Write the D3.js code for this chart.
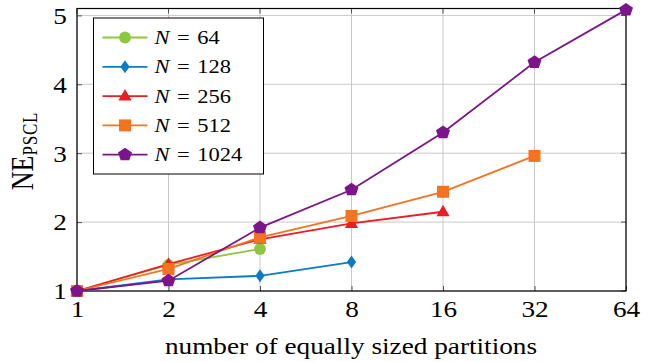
<!DOCTYPE html>
<head>
  <meta charset="utf-8">
  <title>NE PSCL</title>
  <script src="https://d3js.org/d3.v7.min.js"></script>
</head>
<body style="margin:0; background:#fff">
  <div id="chart"></div>
  <script>
    // Partitionen (x-Achse, log2)
    var partitions = [1, 2, 4, 8, 16, 32, 64];
    var yTicks = [1, 2, 3, 4, 5];

    // Werte je Serie
    var n64   = [1.00, 1.38, 1.61];
    var n128  = [1.00, 1.17, 1.22, 1.42];
    var n256  = [1.00, 1.39, 1.75, 1.98, 2.15];
    var n512  = [1.00, 1.32, 1.78, 2.09, 2.44, 2.96];
    var n1024 = [1.00, 1.15, 1.92, 2.47, 3.30, 4.32, 5.08];

    var seriesNames = ['64', '128', '256', '512', '1024'];
    var seriesValues = [n64, n128, n256, n512, n1024];
    var colors = ['#8dc63f', '#0a7cc4', '#ec1c24', '#f47321', '#7b1589'];
    var symbols = ['circle', 'diamond', 'triangle', 'square', 'pentagon'];

    var FONT = 'Liberation Serif';
    // die Vorlage ist horizontal gestreckt
    var SX = 1.185;

    var W = 652, H = 362;
    var margin = { top: 8.5, right: 26, bottom: 71, left: 77 };
    var width = W - margin.left - margin.right;
    var height = H - margin.top - margin.bottom;

    var x = d3.scaleLog().base(2).domain([1, 64]).range([0, width]);
    var y = d3.scaleLinear().domain([1, 5.1]).range([height, 0]);

    var svg = d3.select('#chart').append('svg')
      .attr('width', W).attr('height', H);
    var g = svg.append('g')
      .attr('transform', 'translate(' + margin.left + ',' + margin.top + ')');

    // Gitter
    g.selectAll('.vg').data(partitions).enter().append('line')
      .attr('x1', function (d) { return x(d); }).attr('x2', function (d) { return x(d); })
      .attr('y1', 0).attr('y2', height)
      .attr('stroke', '#c8c8c8').attr('stroke-width', 1);
    g.selectAll('.hg').data(yTicks).enter().append('line')
      .attr('y1', function (d) { return y(d); }).attr('y2', function (d) { return y(d); })
      .attr('x1', 0).attr('x2', width)
      .attr('stroke', '#c8c8c8').attr('stroke-width', 1);

    // Achsen
    var xAxis = d3.axisBottom(x).tickValues(partitions).tickFormat(d3.format('d'))
      .tickSizeInner(-5).tickSizeOuter(0);
    var yAxis = d3.axisLeft(y).tickValues(yTicks).tickFormat(d3.format('d'))
      .tickSizeInner(-5).tickSizeOuter(0);

    var gx = g.append('g').attr('transform', 'translate(0,' + height + ')').call(xAxis);
    var gy = g.append('g').call(yAxis);
    [gx, gy].forEach(function (a) {
      a.attr('font-family', null).attr('font-size', null);
      a.select('.domain').remove();
      a.selectAll('line').attr('stroke', '#555');
      a.selectAll('text').attr('fill', '#000')
        .style('font-size', '23px').style('font-family', FONT);
    });
    gx.selectAll('text').attr('y', 0).attr('dy', '0.71em')
      .attr('transform', 'translate(0,10) scale(' + SX + ',1)');
    gy.selectAll('text').attr('x', 0).attr('dy', '0.34em')
      .attr('transform', 'translate(-10,0) scale(' + SX + ',1)');

    // Ticks oben und rechts
    g.selectAll('.tt').data(partitions).enter().append('line')
      .attr('x1', function (d) { return x(d); }).attr('x2', function (d) { return x(d); })
      .attr('y1', 0).attr('y2', 5).attr('stroke', '#555');
    g.selectAll('.rt').data(yTicks).enter().append('line')
      .attr('y1', function (d) { return y(d); }).attr('y2', function (d) { return y(d); })
      .attr('x1', width).attr('x2', width - 5).attr('stroke', '#555');

    // Rahmen
    g.append('rect').attr('width', width).attr('height', height)
      .attr('fill', 'none').attr('stroke', '#000').attr('stroke-width', 1.2);

    function poly(pts) {
      return 'M' + pts.map(function (p) { return p[0].toFixed(2) + ',' + p[1].toFixed(2); }).join('L') + 'Z';
    }
    function markerPath(s) {
      if (s === 'circle') return d3.symbol().type(d3.symbolCircle).size(110)();
      if (s === 'square') return poly([[-6, -6], [6, -6], [6, 6], [-6, 6]]);
      if (s === 'diamond') return poly([[0, -6.5], [4.6, 0], [0, 6.5], [-4.6, 0]]);
      if (s === 'triangle') return poly([[0, -7], [6.6, 4.4], [-6.6, 4.4]]);
      var pts = [];
      for (var i = 0; i < 5; i++) {
        var a = -Math.PI / 2 + i * 2 * Math.PI / 5;
        pts.push([7 * Math.cos(a) * 1.05, 7 * Math.sin(a)]);
      }
      return poly(pts);
    }

    var line = d3.line()
      .x(function (d, i) { return x(partitions[i]); })
      .y(function (d) { return y(d); });

    seriesValues.forEach(function (vals, k) {
      g.append('path').datum(vals)
        .attr('d', line).attr('fill', 'none')
        .attr('stroke', colors[k]).attr('stroke-width', 1.8);
      g.selectAll('.m' + k).data(vals).enter().append('path')
        .attr('transform', function (d, i) { return 'translate(' + x(partitions[i]) + ',' + y(d) + ')'; })
        .attr('d', markerPath(symbols[k]))
        .attr('fill', colors[k]);
    });

    // Legende
    var leg = svg.append('g').attr('transform', 'translate(93.5,18)');
    leg.append('rect').attr('width', 170).attr('height', 156)
      .attr('fill', '#fff').attr('stroke', '#000').attr('stroke-width', 1);
    seriesNames.forEach(function (name, k) {
      var ly = 19.5 + k * 29.3;
      leg.append('line').attr('x1', 9).attr('x2', 54).attr('y1', ly).attr('y2', ly)
        .attr('stroke', colors[k]).attr('stroke-width', 1.8);
      leg.append('path').attr('transform', 'translate(31.5,' + ly + ')')
        .attr('d', markerPath(symbols[k])).attr('fill', colors[k]);
      var t = leg.append('text')
        .attr('transform', 'translate(61,' + (ly + 6.5) + ') scale(' + SX + ',1)')
        .style('font-family', FONT).style('font-size', '19px');
      t.append('tspan').style('font-style', 'italic').text('N');
      t.append('tspan').text('\u2004=\u2004' + name);
    });

    // Achsenbeschriftungen
    svg.append('text')
      .attr('transform', 'translate(' + (margin.left + width / 2 - 0.5) + ',354) scale(' + SX + ',1)')
      .attr('text-anchor', 'middle')
      .style('font-family', FONT).style('font-size', '23px')
      .text('number of equally sized partitions');

    var yl = svg.append('text')
      .attr('transform', 'translate(33,151) scale(' + SX + ',1) rotate(-90)')
      .attr('text-anchor', 'middle')
      .style('font-family', FONT).style('font-size', '26px');
    yl.append('tspan').text('NE');
    yl.append('tspan').attr('dy', 3.5).style('font-size', '17px')
      .style('letter-spacing', '0.8px').text('PSCL');
  </script>
</body>
